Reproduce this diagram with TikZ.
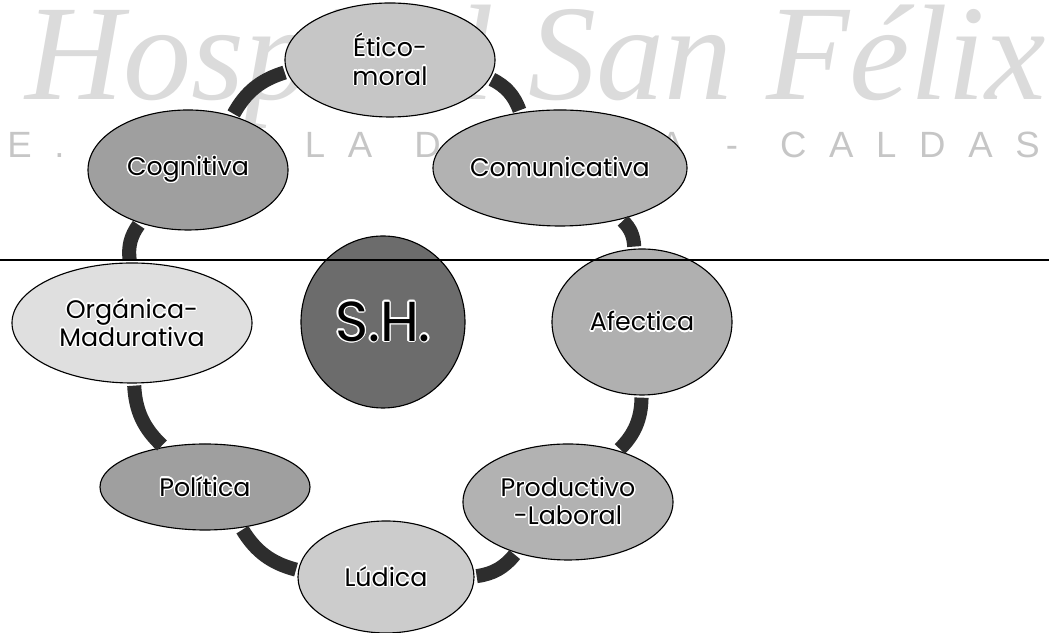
\documentclass[tikz,border=0pt]{standalone}
\usepackage{fontspec}
\usepackage{graphicx}
\usepackage{contour}
\setmainfont{Poppins}
\newfontfamily\guionfont{Liberation Serif}
\newfontfamily\membretefont{Liberation Sans}[LetterSpace=62, WordSpace=1.28]
\usepackage{tikz}
\usetikzlibrary{shapes.geometric}

\contourlength{0.9pt}
\newcommand{\borde}[1]{\contour{white}{#1}}

\tikzset{
  area/.style={ellipse, draw=black, line width=0.8pt, inner sep=0pt, align=center,
    font=\fontsize{18}{20}\selectfont},
  anillo/.style={line width=10pt, draw=gray!35!black, shorten <=1.5pt, shorten >=1.5pt}
}

\begin{document}
\begin{tikzpicture}
\useasboundingbox (0, 0) rectangle (26.225, 15.825);
% membrete de fondo
\node[anchor=base west, text=gray!28, inner sep=0pt] (firma) at (0.625, 13.325)
  {\resizebox{25.5cm}{!}{\guionfont\itshape Hospital San Félix}};
\node[anchor=east, text=gray!45, inner sep=0pt, font=\membretefont\fontsize{26}{26}\selectfont]
  (ciudad) at (26.0, 12.2) {E. S. E. LA DORADA - CALDAS};
% areas
\node[area, fill=gray!45, minimum width=5.25cm, minimum height=2.85cm] (etico) at (9.75, 14.325) {\borde{Ético-}\\\borde{moral}};
\node[area, fill=gray!60, minimum width=6.35cm, minimum height=2.9cm] (comu) at (14.0, 11.625) {\borde{Comunicativa}};
\node[area, fill=gray!62, minimum width=4.5cm, minimum height=3.65cm] (afec) at (16.05, 7.775) {\borde{Afectica}};
\node[area, fill=gray!60, minimum width=5.25cm, minimum height=2.9cm] (prod) at (14.2, 3.275) {\borde{Productivo}\\\borde{-Laboral}};
\node[area, fill=gray!40, minimum width=4.4cm, minimum height=2.8cm] (ludi) at (9.65, 1.4) {\borde{Lúdica}};
\node[area, fill=gray!75, minimum width=5.25cm, minimum height=2.15cm] (poli) at (5.125, 3.65) {\borde{Política}};
\node[area, fill=gray!25, minimum width=6.0cm, minimum height=3.0cm] (orga) at (3.3, 7.75) {\borde{Orgánica-}\\\borde{Madurativa}};
\node[area, fill=gray!75, minimum width=5.0cm, minimum height=3.0cm] (cogn) at (4.7, 11.575) {\borde{Cognitiva}};
\node[area, fill=gray!85!black, minimum width=4.1cm, minimum height=4.3cm,
  font=\fontsize{40}{40}\selectfont] (sh) at (9.575, 7.775) {\borde{S.H.}};
% anillo
\draw[anillo] (etico) to[bend left=22] (comu);
\draw[anillo] (comu) to[bend left=22] (afec);
\draw[anillo] (afec) to[bend left=22] (prod);
\draw[anillo] (prod) to[bend left=22] (ludi);
\draw[anillo] (ludi) to[bend left=22] (poli);
\draw[anillo] (poli) to[bend left=22] (orga);
\draw[anillo] (orga) to[bend left=22] (cogn);
\draw[anillo] (cogn) to[bend left=22] (etico);
% linea
\draw[line width=0.8pt] (0, 9.325) -- (26.225, 9.325);
\end{tikzpicture}
\end{document}
